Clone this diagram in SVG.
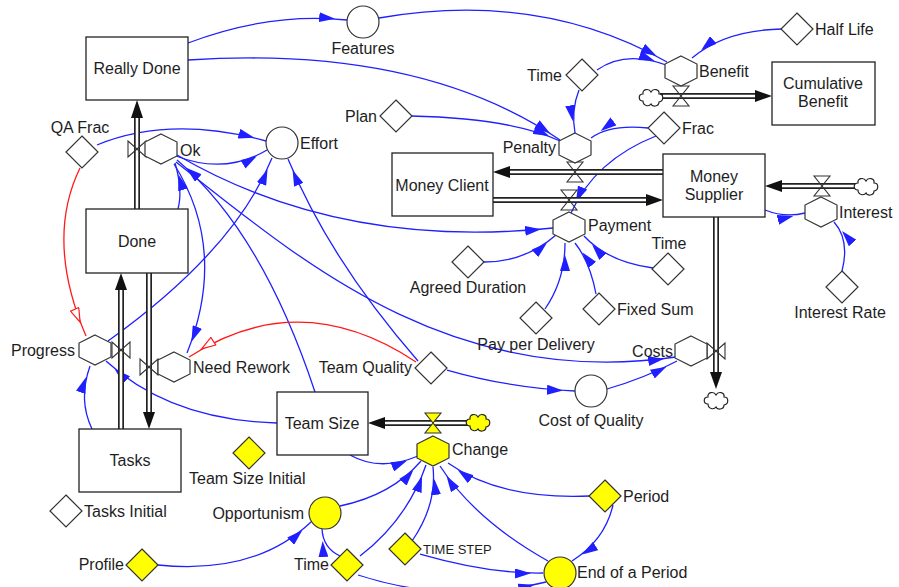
<svg xmlns="http://www.w3.org/2000/svg" xmlns:xlink="http://www.w3.org/1999/xlink" width="899" height="587" viewBox="0 0 899 587">
<style>
text{font-family:"Liberation Sans",Arial,sans-serif;font-size:16px;fill:#1e1e1e}
.c{text-anchor:middle}.e{text-anchor:end}
.stock{fill:#fff;stroke:#222;stroke-width:1.3}
.sh{fill:#fff;stroke:#333;stroke-width:1.2}
.y{fill:#ffff00}
.lk{fill:none;stroke:#1f1fff;stroke-width:1.3;marker-end:url(#ba)}
.rd{fill:none;stroke:#ff1a1a;stroke-width:1.3;marker-end:url(#ra)}
.po{fill:none;stroke:#222;stroke-width:6}
.pi{fill:none;stroke:#fff;stroke-width:2.6}
.ah{fill:#111}
.vv{fill:none;stroke:#333;stroke-width:1.1}
</style>
<defs>
<marker id="ba" viewBox="0 0 40 10" refX="28" refY="5" markerWidth="40" markerHeight="10" markerUnits="userSpaceOnUse" orient="auto"><path d="M0,0 L16,5 L0,10 z" fill="#1f1fff"/></marker>
<marker id="ra" viewBox="0 0 40 10" refX="30" refY="5" markerWidth="40" markerHeight="10" markerUnits="userSpaceOnUse" orient="auto"><path d="M1,0.5 L15,5 L1,9.5 z" fill="#fff" stroke="#ff1a1a" stroke-width="1.2"/></marker>
<polygon id="hex" points="0,-15 16,-7 16,7 0,15 -16,7 -16,-7"/>
<polygon id="dia" points="0,-16 16,0 0,16 -16,0"/>
<path id="vh" d="M-9,-8 L-9,8 L9,-8 L9,8 Z"/>
<path id="vv" d="M-8,-10 L8,-10 L-8,10 L8,10 Z"/>
<path id="cloud" d="M-8,4 C-13,4 -13,-3 -8,-3 C-9,-8 -2,-9 0,-5 C2,-9 9,-8 8,-3 C13,-3 13,4 8,5 C8,10 1,10 0,7 C-2,10 -8,9 -8,4 Z"/>
</defs>

<g id="connectors">
<path class="lk" d="M188,43 Q270,12 347,20"/>
<path class="lk" d="M379,18 Q540,-10 667,62"/>
<path class="lk" d="M597,70 Q625,50 666,65"/>
<path class="lk" d="M782,29 Q725,30 692,58"/>
<path class="lk" d="M188,60 Q420,45 560,140"/>
<path class="lk" d="M411,116 Q510,118 560,141"/>
<path class="lk" d="M579,90 Q571,110 575,133"/>
<path class="lk" d="M648,128 Q610,124 591,138"/>
<path class="lk" d="M656,136 Q595,160 571,213"/>
<path class="lk" d="M97,145 Q170,115 266,141"/>
<path class="lk" d="M176,156 Q225,175 267,150"/>
<path class="lk" d="M177,155 Q340,250 553,228"/>
<path class="lk" d="M484,262 Q525,262 556,235"/>
<path class="lk" d="M545,309 Q565,280 565,243"/>
<path class="lk" d="M596,294 Q590,262 575,243"/>
<path class="lk" d="M653,268 Q608,262 584,236"/>
<path class="lk" d="M765,210 Q785,218 805,213"/>
<path class="lk" d="M842,271 Q850,240 834,222"/>
<path class="lk" d="M447,370 Q510,388 575,391"/>
<path class="lk" d="M607,389 Q645,378 677,361"/>
<path class="lk" d="M176,162 C300,260 450,390 676,357"/>
<path class="lk" d="M174,164 Q228,250 187,353"/>
<path class="lk" d="M178,209 Q183,190 175,163"/>
<path class="lk" d="M315,392 Q262,232 177,160"/>
<path class="lk" d="M108,341 Q235,250 272,158"/>
<path class="lk" d="M418,361 Q330,260 288,159"/>
<path class="lk" d="M277,423 Q170,420 106,361"/>
<path class="lk" d="M92,429 Q78,400 90,366"/>
<path class="lk" d="M350,455 Q380,472 418,456"/>
<path class="lk" d="M340,506 Q392,495 421,461"/>
<path class="lk" d="M360,556 Q407,520 426,465"/>
<path class="lk" d="M412,541 Q437,505 433,467"/>
<path class="lk" d="M548,561 Q475,520 440,466"/>
<path class="lk" d="M590,496 Q500,500 448,463"/>
<path class="lk" d="M613,505 Q605,540 572,561"/>
<path class="lk" d="M420,554 Q490,574 543,573"/>
<path class="lk" d="M358,575 Q450,605 546,582"/>
<path class="lk" d="M340,556 Q323,548 322,529"/>
<path class="lk" d="M158,565 Q255,575 311,522"/>
<path class="rd" d="M80,168 Q45,240 86,336"/>
<path class="rd" d="M416,362 Q300,285 189,357"/>
</g>

<g id="pipes">
<path class="po" d="M137,209 V117 M121,429 V289 M149,273 V413 M663,172 H509 M493,200 H647 M660,96 H756 M858,186 H781 M716,217 V373 M470,423 H384"/>
<path class="pi" d="M137,210 V117 M121,430 V289 M149,272 V413 M664,172 H509 M492,200 H647 M663,96 H756 M855,186 H781 M716,216 V373 M467,423 H384"/>
<polygon class="ah" points="131,118 143,118 137,100"/>
<polygon class="ah" points="115,290 127,290 121,273"/>
<polygon class="ah" points="143,412 155,412 149,429"/>
<polygon class="ah" points="510,166 510,178 493,172"/>
<polygon class="ah" points="646,194 646,206 663,200"/>
<polygon class="ah" points="755,90 755,102 772,96"/>
<polygon class="ah" points="782,180 782,192 765,186"/>
<polygon class="ah" points="710,372 722,372 716,389"/>
<polygon class="ah" points="385,417 385,429 368,423"/>
<use xlink:href="#cloud" x="651" y="97" fill="#fff" stroke="#222" stroke-width="1.2"/>
<use xlink:href="#cloud" x="866" y="186" fill="#fff" stroke="#222" stroke-width="1.2"/>
<use xlink:href="#cloud" x="716" y="400" fill="#fff" stroke="#222" stroke-width="1.2"/>
<use xlink:href="#cloud" x="478" y="422" fill="#ffff00" stroke="#222" stroke-width="1.2"/>
</g>

<g id="really-done"><rect class="stock" x="86" y="37" width="102" height="63"/><text class="c" x="137" y="74">Really Done</text></g>
<g id="done"><rect class="stock" x="86" y="209" width="102" height="64"/><text class="c" x="137" y="247">Done</text></g>
<g id="tasks"><rect class="stock" x="79" y="429" width="102" height="63"/><text class="c" x="130" y="466">Tasks</text></g>
<g id="team-size"><rect class="stock" x="277" y="392" width="91" height="63"/><text class="c" x="322" y="429">Team Size</text></g>
<g id="money-client"><rect class="stock" x="392" y="153" width="101" height="63"/><text class="c" x="442" y="191">Money Client</text></g>
<g id="money-supplier"><rect class="stock" x="663" y="154" width="102" height="63"/><text class="c" x="714" y="182">Money</text><text class="c" x="714" y="200">Supplier</text></g>
<g id="cumulative-benefit"><rect class="stock" x="772" y="62" width="103" height="63"/><text class="c" x="823" y="89">Cumulative</text><text class="c" x="823" y="107">Benefit</text></g>

<g id="ok"><use xlink:href="#vh" x="137" y="149" class="vv"/><use xlink:href="#hex" x="161" y="149" class="sh"/><text x="180" y="156">Ok</text></g>
<g id="progress"><use xlink:href="#vh" x="121" y="350" class="vv"/><use xlink:href="#hex" x="95" y="350" class="sh"/><text class="e" x="75" y="356">Progress</text></g>
<g id="need-rework"><use xlink:href="#vh" x="149" y="367" class="vv"/><use xlink:href="#hex" x="174" y="367" class="sh"/><text x="193" y="373">Need Rework</text></g>
<g id="penalty"><use xlink:href="#vv" x="575" y="172" class="vv"/><use xlink:href="#hex" x="575" y="148" class="sh"/><text class="e" x="556" y="153">Penalty</text></g>
<g id="payment"><use xlink:href="#vv" x="569" y="200" class="vv"/><use xlink:href="#hex" x="569" y="227" class="sh"/><text x="588" y="231">Payment</text></g>
<g id="benefit"><use xlink:href="#vv" x="681" y="96" class="vv"/><use xlink:href="#hex" x="681" y="71" class="sh"/><text x="699" y="77">Benefit</text></g>
<g id="interest"><use xlink:href="#vv" x="822" y="186" class="vv"/><use xlink:href="#hex" x="821" y="212" class="sh"/><text x="839" y="218">Interest</text></g>
<g id="costs"><use xlink:href="#vh" x="716" y="351" class="vv"/><use xlink:href="#hex" x="691" y="351" class="sh"/><text class="e" x="673" y="357">Costs</text></g>
<g id="change"><use xlink:href="#vv" x="433" y="423" fill="#ffff00" stroke="#333" stroke-width="1.1"/><use xlink:href="#hex" x="433" y="451" fill="#ffff00" stroke="#333" stroke-width="1.2"/><text x="452" y="455">Change</text></g>

<g id="effort"><circle class="sh" cx="282" cy="143" r="16"/><text x="300" y="149">Effort</text></g>
<g id="features"><circle class="sh" cx="363" cy="22" r="16"/><text class="c" x="363" y="54">Features</text></g>
<g id="cost-of-quality"><circle class="sh" cx="591" cy="391" r="16"/><text class="c" x="591" y="426">Cost of Quality</text></g>
<g id="opportunism"><circle class="sh y" cx="325" cy="513" r="16"/><text class="e" x="304" y="519">Opportunism</text></g>
<g id="end-of-a-period"><circle class="sh y" cx="560" cy="573" r="16"/><text x="577" y="578">End of a Period</text></g>

<g id="qa-frac"><use xlink:href="#dia" x="82" y="152" class="sh"/><text class="c" x="80" y="133">QA Frac</text></g>
<g id="plan"><use xlink:href="#dia" x="396" y="116" class="sh"/><text class="e" x="377" y="122">Plan</text></g>
<g id="time-top"><use xlink:href="#dia" x="582" y="75" class="sh"/><text class="e" x="562" y="81">Time</text></g>
<g id="half-life"><use xlink:href="#dia" x="797" y="29" class="sh"/><text x="815" y="35">Half Life</text></g>
<g id="frac"><use xlink:href="#dia" x="664" y="128" class="sh"/><text x="682" y="134">Frac</text></g>
<g id="agreed-duration"><use xlink:href="#dia" x="468" y="262" class="sh"/><text class="c" x="468" y="293">Agreed Duration</text></g>
<g id="pay-per-delivery"><use xlink:href="#dia" x="536" y="318" class="sh"/><text class="c" x="536" y="350">Pay per Delivery</text></g>
<g id="fixed-sum"><use xlink:href="#dia" x="599" y="309" class="sh"/><text x="617" y="315">Fixed Sum</text></g>
<g id="time-mid"><use xlink:href="#dia" x="668" y="269" class="sh"/><text class="c" x="669" y="249">Time</text></g>
<g id="interest-rate"><use xlink:href="#dia" x="842" y="287" class="sh"/><text class="c" x="840" y="318">Interest Rate</text></g>
<g id="team-quality"><use xlink:href="#dia" x="431" y="368" class="sh"/><text class="e" x="412" y="373">Team Quality</text></g>
<g id="tasks-initial"><use xlink:href="#dia" x="66" y="511" class="sh"/><text x="84" y="517">Tasks Initial</text></g>
<g id="team-size-initial"><use xlink:href="#dia" x="249" y="453" class="sh y"/><text x="189" y="484">Team Size Initial</text></g>
<g id="profile"><use xlink:href="#dia" x="142" y="565" class="sh y"/><text class="e" x="124" y="570">Profile</text></g>
<g id="time-bottom"><use xlink:href="#dia" x="347" y="565" class="sh y"/><text class="e" x="329" y="570">Time</text></g>
<g id="time-step"><use xlink:href="#dia" x="405" y="549" class="sh y"/><text x="423" y="554" style="font-size:13px">TIME STEP</text></g>
<g id="period"><use xlink:href="#dia" x="605" y="496" class="sh y"/><text x="623" y="502">Period</text></g>
</svg>
